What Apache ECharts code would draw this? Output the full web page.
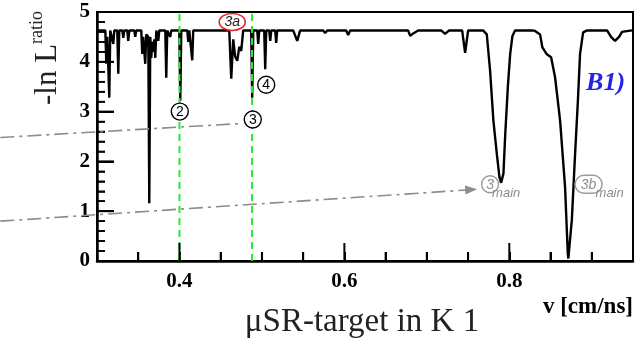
<!DOCTYPE html>
<html>
<head>
<meta charset="utf-8">
<script src="https://cdn.jsdelivr.net/npm/echarts@6/dist/echarts.min.js"></script>
<style>
  html, body { margin: 0; padding: 0; background: #fff; }
  #chart { width: 636px; height: 343px; }
</style>
</head>
<body>
<div id="chart"></div>
<script>
// Likelihood-ratio scan versus velocity v [cm/ns]
const velocity = [
  0.3004, 0.3040, 0.3101, 0.3113, 0.3125, 0.3149, 0.3161, 0.3185, 0.3198, 0.3210,
  0.3246, 0.3258, 0.3270, 0.3307, 0.3319, 0.3331, 0.3367, 0.3379, 0.3392, 0.3452,
  0.3464, 0.3476, 0.3537, 0.3549, 0.3561, 0.3585, 0.3598, 0.3622, 0.3634, 0.3646,
  0.3658, 0.3670, 0.3682, 0.3695, 0.3707, 0.3719, 0.3731, 0.3743, 0.3755, 0.3828,
  0.3840, 0.3852, 0.3876, 0.3888, 0.3901, 0.3998, 0.4010, 0.4022, 0.4095, 0.4107,
  0.4119, 0.4143, 0.4155, 0.4167, 0.4604, 0.4628, 0.4652, 0.4676, 0.4701, 0.4725,
  0.4749, 0.4773, 0.4870, 0.4882, 0.4895, 0.4943, 0.4955, 0.4967, 0.5028, 0.5040,
  0.5052, 0.5088, 0.5101, 0.5113, 0.5161, 0.5173, 0.5185, 0.5379, 0.5428, 0.5464,
  0.5743, 0.5767, 0.5792, 0.6022, 0.6046, 0.6070, 0.6773, 0.6798, 0.6834, 0.6858,
  0.6895, 0.7173, 0.7222, 0.7270, 0.7428, 0.7464, 0.7501, 0.7682, 0.7727, 0.7767,
  0.7807, 0.7848, 0.7880, 0.7901, 0.7929, 0.7949, 0.7982, 0.8010, 0.8038, 0.8070,
  0.8276, 0.8313, 0.8373, 0.8401, 0.8455, 0.8507, 0.8555, 0.8616, 0.8676, 0.8709,
  0.8716, 0.8758, 0.8798, 0.8830, 0.8858, 0.8895, 0.8943, 0.9185, 0.9234, 0.9282,
  0.9331, 0.9367, 0.9488
];
const lnRatio = [
  4.63, 4.63, 4.63, 3.96, 4.50, 3.28, 4.63, 4.63, 4.36, 4.63,
  4.63, 3.76, 4.63, 4.63, 4.48, 4.63, 4.63, 4.42, 4.63, 4.63,
  4.50, 4.63, 4.63, 4.16, 4.50, 3.96, 4.55, 4.50, 1.16, 4.50,
  4.08, 4.40, 4.20, 4.45, 4.08, 4.63, 4.63, 4.42, 4.63, 4.63,
  3.68, 4.63, 4.63, 4.50, 4.63, 4.63, 3.22, 4.63, 4.63, 4.40,
  4.63, 4.63, 4.03, 4.63, 4.63, 3.66, 4.45, 4.10, 4.02, 4.30,
  4.22, 4.63, 4.63, 3.28, 4.63, 4.63, 4.36, 4.63, 4.63, 3.85,
  4.63, 4.63, 4.42, 4.63, 4.63, 4.38, 4.63, 4.63, 4.42, 4.63,
  4.63, 4.58, 4.63, 4.63, 4.54, 4.63, 4.63, 4.52, 4.57, 4.56,
  4.63, 4.63, 4.56, 4.63, 4.63, 4.18, 4.63, 4.63, 4.55, 3.82,
  2.82, 2.16, 1.69, 1.57, 1.76, 2.49, 3.49, 4.15, 4.52, 4.63,
  4.63, 4.62, 4.55, 4.29, 4.15, 4.09, 3.69, 2.82, 1.49, 0.16,
  0.05, 0.82, 2.16, 3.16, 4.16, 4.59, 4.63, 4.63, 4.50, 4.42,
  4.50, 4.60, 4.63
];

// axis ticks and labels
const xLabelTicks = [0.4, 0.6, 0.8];
const xMinorTicks = [0.35, 0.45, 0.5, 0.55, 0.65, 0.7, 0.75, 0.85, 0.9];
const yMajorTicks = [0, 1, 2, 3, 4, 5];
const yMinorTicks = [0.2, 0.4, 0.6, 0.8, 1.2, 1.4, 1.6, 1.8, 2.2, 2.4, 2.6, 2.8,
                     3.2, 3.4, 3.6, 3.8, 4.2, 4.4, 4.6, 4.8];
const cutVelocities = [0.4, 0.488];

// Annotation anchors (velocity, -ln L)
const blackMarks = [
  { text: '2', v: 0.4004, y: 3.00 },
  { text: '3', v: 0.4889, y: 2.84 },
  { text: '4', v: 0.5052, y: 3.54 }
];
const mark3a = { text: '3a', v: 0.464, y: 4.80 };
const mark3main = { text: '3', v: 0.7767, y: 1.54 };
const mark3bMain = { text: '3b', v: 0.8961, y: 1.54 };
const upperGuide = [[0.1828, 2.48], [0.4737, 2.76]];
const lowerGuide = [[0.1828, 0.80], [0.7610, 1.44]];
const panelTag = { text: 'B1)', v: 0.9404, y: 3.56 };

const serif = "'Liberation Serif', 'Times New Roman', serif";
const sans = "'Liberation Sans', Arial, sans-serif";

function textEl(x, y, text, font, fill, align, vAlign, extra) {
  return Object.assign({
    type: 'text', x: x, y: y,
    style: {
      text: text, font: font, fill: fill,
      align: align, verticalAlign: vAlign,
      textAlign: align, textVerticalAlign: vAlign
    }
  }, extra || {});
}

// ticks, cut lines, guides, circled markers and titles
function renderDecor(params, api) {
  const c = [];
  const at = p => api.coord(p);

  // dashed cut lines over the full height
  cutVelocities.forEach(v => {
    const a = at([v, 0]);
    const b = at([v, 5]);
    c.push({ type: 'line', shape: { x1: a[0], y1: a[1], x2: b[0], y2: b[1] },
             style: { stroke: '#2fe82f', lineWidth: 2, lineDash: [7, 5] } });
  });

  xMinorTicks.forEach(v => {
    const p = at([v, 0]);
    c.push({ type: 'rect', shape: { x: p[0] - 1, y: p[1] - 9, width: 2, height: 9 }, style: { fill: '#000' } });
  });
  xLabelTicks.forEach(v => {
    const p = at([v, 0]);
    c.push({ type: 'rect', shape: { x: p[0] - 1, y: p[1] - 18, width: 2, height: 18 }, style: { fill: '#000' } });
    c.push(textEl(p[0], p[1] + 10, v.toFixed(1), 'bold 21px ' + serif, '#000', 'center', 'top'));
  });
  yMajorTicks.forEach(y => {
    const p = at([0.3, y]);
    c.push({ type: 'rect', shape: { x: p[0], y: p[1] - 1, width: 17, height: 2 }, style: { fill: '#000' } });
  });
  yMinorTicks.forEach(y => {
    const p = at([0.3, y]);
    c.push({ type: 'rect', shape: { x: p[0], y: p[1] - 0.8, width: 8, height: 1.6 }, style: { fill: '#000' } });
  });

  function guide(seg, withArrow) {
    const a = at(seg[0]);
    const b = at(seg[1]);
    c.push({
      type: 'line',
      shape: { x1: a[0], y1: a[1], x2: b[0], y2: b[1] },
      style: { stroke: '#8c8c8c', lineWidth: 1.6, lineDash: [14, 5, 3, 5] }
    });
    if (withArrow) {
      const ang = Math.atan2(b[1] - a[1], b[0] - a[0]);
      const L = 12, W = 4.5;
      const bx = b[0] - L * Math.cos(ang), by = b[1] - L * Math.sin(ang);
      c.push({
        type: 'polygon',
        shape: { points: [
          [b[0], b[1]],
          [bx - W * Math.sin(ang), by + W * Math.cos(ang)],
          [bx + W * Math.sin(ang), by - W * Math.cos(ang)]
        ] },
        style: { fill: '#8c8c8c' }
      });
    }
  }
  guide(upperGuide, false);
  guide(lowerGuide, true);

  blackMarks.forEach(m => {
    const p = at([m.v, m.y]);
    c.push({ type: 'circle', shape: { cx: p[0], cy: p[1], r: 8.5 },
             style: { fill: '#fff', stroke: '#000', lineWidth: 1.4 } });
    c.push(textEl(p[0], p[1] + 0.5, m.text, '14px ' + sans, '#000', 'center', 'middle'));
  });

  let p = at([mark3a.v, mark3a.y]);
  c.push({ type: 'ellipse', shape: { cx: p[0], cy: p[1], rx: 13, ry: 8.5 },
           style: { fill: '#fff', stroke: '#e3262b', lineWidth: 1.6 } });
  c.push(textEl(p[0], p[1] + 0.5, mark3a.text, 'italic 14px ' + sans, '#222', 'center', 'middle'));

  p = at([mark3main.v, mark3main.y]);
  c.push({ type: 'circle', shape: { cx: p[0], cy: p[1], r: 8.5 },
           style: { fill: 'rgba(255,255,255,0)', stroke: '#9a9a9a', lineWidth: 1.4 } });
  c.push(textEl(p[0], p[1] + 0.5, mark3main.text, 'italic 14px ' + sans, '#8c8c8c', 'center', 'middle'));
  c.push(textEl(p[0] + 2, p[1] + 9, 'main', 'italic 13px ' + sans, '#8c8c8c', 'left', 'middle'));

  p = at([mark3bMain.v, mark3bMain.y]);
  c.push({ type: 'rect', shape: { x: p[0] - 13.5, y: p[1] - 9, width: 27, height: 18, r: 9 },
           style: { fill: 'rgba(255,255,255,0)', stroke: '#9a9a9a', lineWidth: 1.4 } });
  c.push(textEl(p[0], p[1] + 0.5, mark3bMain.text, 'italic 14px ' + sans, '#8c8c8c', 'center', 'middle'));
  c.push(textEl(p[0] + 7, p[1] + 9, 'main', 'italic 13px ' + sans, '#8c8c8c', 'left', 'middle'));

  p = at([panelTag.v, panelTag.y]);
  c.push(textEl(p[0], p[1], panelTag.text, 'italic bold 26px ' + serif, '#2424e6', 'right', 'middle'));

  // axis titles
  c.push(textEl(63, 105, '-ln L', '31px ' + serif, '#222', 'left', 'bottom', { rotation: Math.PI / 2 }));
  c.push(textEl(46, 44, 'ratio', '18px ' + serif, '#222', 'left', 'bottom', { rotation: Math.PI / 2 }));
  c.push(textEl(633, 319, 'v [cm/ns]', 'bold 23px ' + serif, '#000', 'right', 'bottom'));
  c.push(textEl(362, 339, 'μSR-target in K 1', '33px ' + serif, '#222', 'center', 'bottom'));

  return { type: 'group', children: c };
}

const chart = echarts.init(document.getElementById('chart'), null, { renderer: 'canvas' });

chart.setOption({
  animation: false,
  backgroundColor: '#fff',
  grid: {
    left: 97, right: 3, top: 12, bottom: 82, outerBoundsMode: 'none',
    show: true, borderColor: '#000', borderWidth: 2
  },
  xAxis: {
    type: 'value', min: 0.3, max: 0.95, interval: 0.05,
    axisLine: { show: true, lineStyle: { color: '#000', width: 2.5 } },
    axisTick: { show: true, inside: true, length: 9, lineStyle: { color: '#000', width: 2 } },
    axisLabel: { show: false },
    splitLine: { show: false }
  },
  yAxis: {
    type: 'value', min: 0, max: 5, interval: 1,
    axisLine: { show: true, lineStyle: { color: '#000', width: 2.5 } },
    axisTick: { show: true, inside: true, length: 17, lineStyle: { color: '#000', width: 2 } },
    minorTick: { show: true, splitNumber: 5, length: 8, lineStyle: { color: '#000', width: 1.6 } },
    axisLabel: { fontFamily: serif, fontWeight: 'bold', fontSize: 21, color: '#000', margin: 7 },
    splitLine: { show: false }
  },
  series: [
    {
      type: 'line',
      data: velocity.map((v, i) => [v, lnRatio[i]]),
      showSymbol: false,
      lineStyle: { color: '#000', width: 2.4 }
    },
    {
      type: 'custom',
      coordinateSystem: 'cartesian2d',
      clip: false,
      silent: true,
      zlevel: 1,
      z: 100,
      data: [[0.3, 0]],
      renderItem: renderDecor
    }
  ]
});
</script>
</body>
</html>
